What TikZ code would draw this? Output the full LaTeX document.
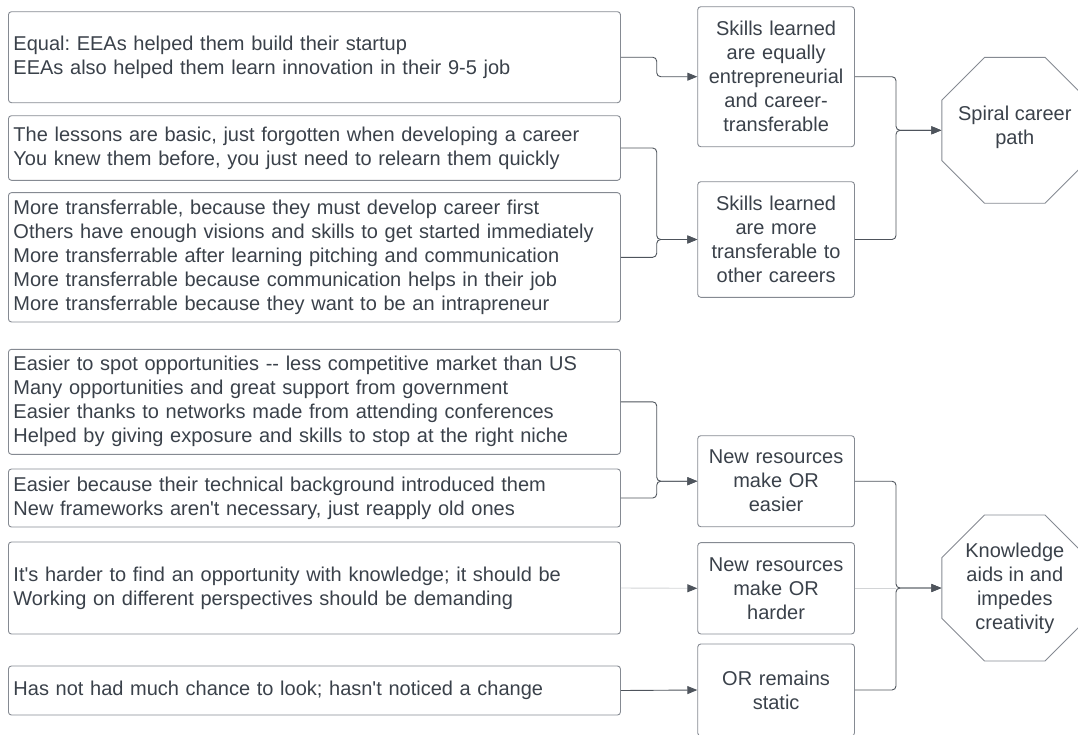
\documentclass[tikz,border=0pt]{standalone}
\usepackage{fontspec}
\setmainfont{Liberation Sans}[Ligatures=TeXOff]
\frenchspacing
\usetikzlibrary{arrows.meta,shapes.geometric}
\definecolor{txt}{HTML}{3A414A}
\definecolor{edge}{HTML}{858A92}
\definecolor{wire}{HTML}{4E545C}
\definecolor{faint}{HTML}{D2D4D6}
\tikzset{
  every node/.style={font=\fontsize{20}{24}\selectfont, text=txt},
  every label/.style={align=center, inner sep=0pt},
  note/.style={draw=edge, line width=0.9pt, rounded corners=3pt, inner xsep=5pt, inner ysep=0pt,
    text width=602pt, align=left, anchor=west},
  claim/.style={draw=edge, line width=0.9pt, rounded corners=3pt, inner sep=0pt,
    minimum width=156.7pt, text width=150pt, align=center, anchor=west},
  theme/.style={draw=edge, line width=0.9pt, regular polygon, regular polygon sides=8,
    minimum size=158pt, inner sep=0pt},
  tip/.style={-{Triangle[length=10pt,width=8pt,color=wire]}},
  wireline/.style={draw=wire, line width=0.9pt, rounded corners=4pt},
  faintline/.style={draw=faint, line width=0.9pt},
}
\begin{document}
\begin{tikzpicture}[x=1pt,y=-1pt]
\useasboundingbox (0,0) rectangle (1078,734);
\clip (0,0) rectangle (1078,734);

% evidence boxes
\node[note, minimum height=91pt]  (L1) at (8,57.2)  {Equal: EEAs helped them build their startup\\EEAs also helped them learn innovation in their 9-5 job};
\node[note, minimum height=64.6pt] (L2) at (8,148)  {The lessons are basic, just forgotten when developing a career\\You knew them before, you just need to relearn them quickly};
\node[note, minimum height=129.3pt] (L3) at (8,257.3) {More transferrable, because they must develop career first\\Others have enough visions and skills to get started immediately\\More transferrable after learning pitching and communication\\More transferrable because communication helps in their job\\More transferrable because they want to be an intrapreneur};
\node[note, minimum height=105pt] (L4) at (8,401.8) {Easier to spot opportunities -- less competitive market than US\\Many opportunities and great support from government\\Easier thanks to networks made from attending conferences\\Helped by giving exposure and skills to stop at the right niche};
\node[note, minimum height=58pt] (L5) at (8,498) {Easier because their technical background introduced them\\New frameworks aren't necessary, just reapply old ones};
\node[note, minimum height=92pt] (L6) at (8,588) {It's harder to find an opportunity with knowledge; it should be\\Working on different perspectives should be demanding};
\node[note, minimum height=49pt] (L7) at (8,690.5) {Has not had much chance to look; hasn't noticed a change};

% claims
\node[claim, minimum height=140pt]   (M1) at (697.3,76.7)  {Skills learned\\are equally\\entrepreneurial\\and career-\\transferable};
\node[claim, minimum height=115.6pt] (M2) at (697.3,239.5) {Skills learned\\are more\\transferable to\\other careers};
\node[claim, minimum height=91pt]    (M3) at (697.3,481.2) {New resources\\make OR\\easier};
\node[claim, minimum height=91.3pt]  (M4) at (697.3,588.3) {New resources\\make OR\\harder};
\node[claim, minimum height=92pt]    (M5) at (697.3,690)   {OR remains\\static};

% themes (octagons with their text set as centred labels)
\node[theme, label={[yshift=3pt]center:Spiral career\\path}] (O1) at (1014.8,130.3) {};
\node[theme, label={center:Knowledge\\aids in and\\impedes\\creativity}] (O2) at (1014.8,588) {};

% bus columns
\coordinate (xa) at (656.7,0);
\coordinate (xb) at (896,0);

% evidence to claims
\draw[wireline, tip] (L1.east) -- (L1.east -| xa) |- (M1.west);
\draw[wireline, tip] (L2.east) -- (L2.east -| xa) |- (M2.west);
\draw[wireline, tip] (L3.east) -- (L3.east -| xa) |- (M2.west);
\draw[wireline, tip] (L4.east) -- (L4.east -| xa) |- (M3.west);
\draw[wireline, tip] (L5.east) -- (L5.east -| xa) |- (M3.west);
\draw[faintline, tip] (L6.east) -- (M4.west);
\draw[wireline, tip] (L7.east) -- (M5.west);

% claims to themes
\draw[wireline, tip] (M1.east) -- (M1.east -| xb) |- (O1.west);
\draw[wireline, tip] (M2.east) -- (M2.east -| xb) |- (O1.west);
\draw[faintline] (M4.east) -- (M4.east -| xb);
\draw[wireline, tip] (M3.east) -- (M3.east -| xb) |- (O2.west);
\draw[wireline, tip] (M5.east) -- (M5.east -| xb) |- (O2.west);
\end{tikzpicture}
\end{document}
